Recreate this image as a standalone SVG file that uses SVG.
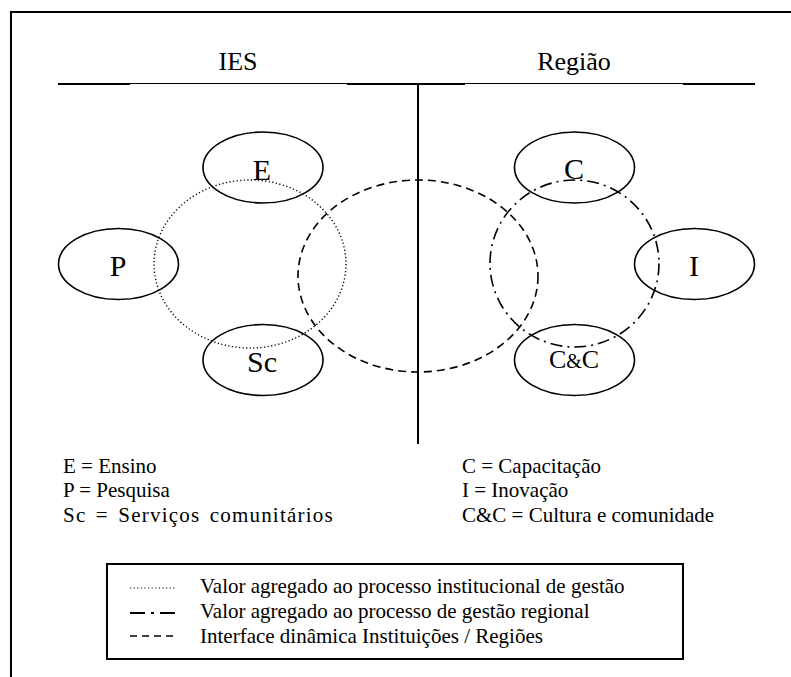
<svg xmlns="http://www.w3.org/2000/svg" width="791" height="677" viewBox="0 0 791 677">
<style>
.hdr{font-size:26px;text-anchor:middle}
.lbl{font-size:30px;text-anchor:middle}
.leg{font-size:21px}
.node{fill:none;stroke:#000;stroke-width:1.6}
.dot{fill:none;stroke:#000;stroke-width:1.4;stroke-dasharray:1.2 2.4}
.dash{fill:none;stroke:#000;stroke-width:1.6;stroke-dasharray:8 5}
.dashdot{fill:none;stroke:#000;stroke-width:1.6;stroke-dasharray:12 5 2 5}
</style>
<rect width="791" height="677" fill="#fff"/>
<g font-family="'Liberation Serif', 'DejaVu Serif', 'Times New Roman', serif" fill="#000">
<g id="frame" stroke="#000" fill="none">
<path d="M11 677 V12 H791" stroke-width="2"/>
<path d="M58 84 H130 M347 84 H465 M683 84 H755" stroke-width="2"/>
<path d="M130 83.5 H347 M465 83.5 H683" stroke-width="1"/>
<path d="M418 84 V444" stroke-width="2"/>
</g>
<text class="hdr" x="238" y="70">IES</text>
<text class="hdr" x="574" y="70">Região</text>
<g id="overlaps">
<ellipse class="dot" cx="250" cy="264" rx="96" ry="84"/>
<ellipse class="dash" cx="418" cy="276" rx="120" ry="96"/>
<ellipse class="dashdot" cx="574.5" cy="263.5" rx="84.5" ry="83.5"/>
</g>
<g id="node-E"><ellipse class="node" cx="263" cy="167.5" rx="60" ry="35.5"/><text class="lbl" x="262" y="180">E</text></g>
<g id="node-P"><ellipse class="node" cx="118.5" cy="264" rx="60" ry="35.5"/><text class="lbl" x="118" y="276">P</text></g>
<g id="node-Sc"><ellipse class="node" cx="263" cy="360" rx="60" ry="35.5"/><text class="lbl" x="262" y="372">Sc</text></g>
<g id="node-C"><ellipse class="node" cx="574.5" cy="167.5" rx="60" ry="35.5"/><text class="lbl" x="574" y="179">C</text></g>
<g id="node-I"><ellipse class="node" cx="694.5" cy="264" rx="60" ry="35.5"/><text class="lbl" x="694" y="276">I</text></g>
<g id="node-CC"><ellipse class="node" cx="574.5" cy="360" rx="60" ry="35.5"/><text class="lbl" x="574" y="368" style="font-size:26px">C<tspan style="font-size:20px">&amp;</tspan>C</text></g>
<g id="key">
<text class="leg" x="63" y="473">E = Ensino</text>
<text class="leg" x="63" y="497">P = Pesquisa</text>
<text class="leg" x="63" y="522" style="letter-spacing:1.2px;word-spacing:3px">Sc = Serviços comunitários</text>
<text class="leg" x="462" y="473">C = Capacitação</text>
<text class="leg" x="462" y="497">I = Inovação</text>
<text class="leg" x="462" y="522">C&amp;C = Cultura e comunidade</text>
</g>
<g id="legend">
<rect x="107" y="564" width="576" height="95" fill="none" stroke="#000" stroke-width="2"/>
<line x1="130" y1="588" x2="175" y2="588" class="dot" style="stroke-width:1"/>
<path d="M130 613 H145 M151 613 H154 M160 613 H175" stroke="#000" stroke-width="1.8" fill="none"/>
<line x1="130" y1="636" x2="175" y2="636" stroke="#000" stroke-width="1.6" stroke-dasharray="7 5"/>
<text class="leg" x="200" y="593">Valor agregado ao processo institucional de gestão</text>
<text class="leg" x="200" y="618">Valor agregado ao processo de gestão regional</text>
<text class="leg" x="200" y="643">Interface dinâmica Instituições / Regiões</text>
</g>
</g>
</svg>
